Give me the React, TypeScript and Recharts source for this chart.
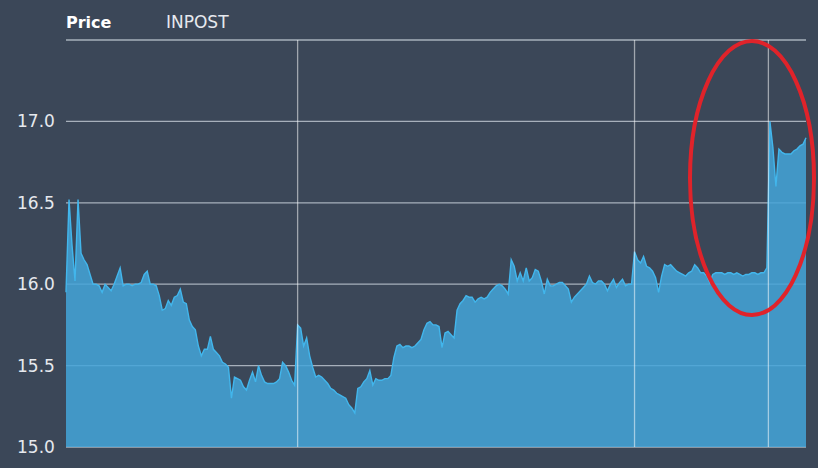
import React from 'react';
import { AreaChart, Area, XAxis, YAxis, CartesianGrid, ReferenceLine } from 'recharts';

const titleLabel = 'Price';
const symbolLabel = 'INPOST';
const yTicks = [15.0, 15.5, 16.0, 16.5, 17.0, 17.5];
const sessionBreaks = [77, 189, 233.5];

const prices: number[] = [
  15.95, 16.52, 16.24, 16.02, 16.52, 16.19, 16.15, 16.12, 16.06, 16.0,
  16.0, 15.99, 15.95, 16.0, 15.98, 15.96, 16.0, 16.05, 16.1, 15.99,
  16.0, 16.0, 15.99, 16.0, 16.0, 16.01, 16.06, 16.08, 16.0, 16.0,
  15.99, 15.93, 15.84, 15.85, 15.9, 15.87, 15.92, 15.93, 15.97, 15.89,
  15.88, 15.78, 15.74, 15.72, 15.62, 15.56, 15.6, 15.6, 15.68, 15.6,
  15.58, 15.56, 15.52, 15.51, 15.49, 15.3, 15.43, 15.42, 15.41, 15.37,
  15.35, 15.41, 15.46, 15.4, 15.5, 15.44, 15.4, 15.39, 15.39, 15.39,
  15.4, 15.42, 15.52, 15.5, 15.46, 15.41, 15.38, 15.75, 15.73, 15.62,
  15.67, 15.56, 15.49, 15.43, 15.44, 15.43, 15.41, 15.39, 15.36, 15.35,
  15.33, 15.32, 15.31, 15.3, 15.26, 15.24, 15.21, 15.36, 15.37, 15.4,
  15.42, 15.47, 15.38, 15.42, 15.41, 15.41, 15.42, 15.42, 15.44, 15.55,
  15.62, 15.63, 15.61, 15.62, 15.62, 15.61, 15.62, 15.64, 15.66, 15.72,
  15.76, 15.77, 15.75, 15.75, 15.74, 15.61, 15.7, 15.71, 15.69, 15.67,
  15.84, 15.88, 15.9, 15.93, 15.92, 15.92, 15.89, 15.91, 15.92, 15.91,
  15.92, 15.95, 15.97, 15.99, 16.0, 15.99, 15.97, 15.94, 16.15, 16.11,
  16.02, 16.07, 16.02, 16.1, 16.02, 16.04, 16.09, 16.08, 16.02, 15.94,
  16.03, 15.99, 15.99, 16.0, 16.01, 16.01, 15.99, 15.97, 15.89, 15.92,
  15.94, 15.96, 15.98, 16.0, 16.05, 16.01, 16.0, 16.02, 16.02, 16.0,
  15.96, 16.0, 16.03, 15.98, 16.01, 16.03, 15.99, 16.0, 16.0, 16.2,
  16.15, 16.13, 16.17, 16.11, 16.1, 16.08, 16.04, 15.95, 16.05, 16.12,
  16.11, 16.12, 16.1, 16.08, 16.07, 16.06, 16.05, 16.07, 16.08, 16.12,
  16.1, 16.07, 16.07, 16.05, 16.01, 16.06, 16.07, 16.07, 16.07, 16.06,
  16.07, 16.07, 16.06, 16.07, 16.06, 16.05, 16.06, 16.06, 16.07, 16.07,
  16.06, 16.07, 16.07, 16.1, 17.0, 16.84, 16.6, 16.83, 16.81, 16.8,
  16.8, 16.8, 16.82, 16.83, 16.85, 16.86, 16.9,
];

const data = prices.map((price, i) => ({ i, price }));

const BG = '#3b4758';
const GRID = '#a7b0bb';
const TEXT = '#e6e9ee';
const FONT = '"DejaVu Sans", Verdana, sans-serif';

const YTick = (props: any) => {
  const { y, payload } = props;
  if (payload.value === 17.5) return null;
  return (
    <text x={17} y={y} dy={6} fill={TEXT} fontSize={17} fontFamily={FONT} textAnchor="start">
      {payload.value.toFixed(1)}
    </text>
  );
};

export default function App() {
  return (
    <div style={{ position: 'absolute', left: 0, top: 0, width: 818, height: 468, background: BG }}>
      <AreaChart
        width={818}
        height={468}
        data={data}
        margin={{ top: 40, right: 12, bottom: 21, left: 0 }}
      >
        <CartesianGrid stroke={GRID} strokeWidth={1.3} horizontal vertical={false} />
        <XAxis
          dataKey="i"
          type="number"
          domain={[0, prices.length - 1]}
          hide
        />
        <YAxis
          domain={[15, 17.5]}
          ticks={yTicks}
          width={66}
          tick={<YTick />}
          tickLine={false}
          axisLine={false}
          allowDataOverflow
        />
        <Area
          type="linear"
          dataKey="price"
          stroke="#42b6ec"
          strokeWidth={1.4}
          fill="#44a4d8"
          fillOpacity={0.86}
          baseValue={15}
          isAnimationActive={false}
          dot={false}
          activeDot={false}
        />
        {sessionBreaks.map((b) => (
          <ReferenceLine key={b} x={b} stroke="#ffffff" strokeOpacity={0.52} strokeWidth={1.3} />
        ))}
      </AreaChart>
      <svg
        width={818}
        height={468}
        style={{ position: 'absolute', left: 0, top: 0, pointerEvents: 'none' }}
      >
        <text x={66} y={28} fill="#ffffff" fontSize={16} fontWeight="bold" fontFamily={FONT}>
          {titleLabel}
        </text>
        <text x={166} y={28} fill={TEXT} fontSize={17} fontFamily={FONT}>
          {symbolLabel}
        </text>
        <ellipse cx={752} cy={178} rx={62} ry={137} fill="none" stroke="#e0232a" strokeWidth={4} />
      </svg>
    </div>
  );
}
